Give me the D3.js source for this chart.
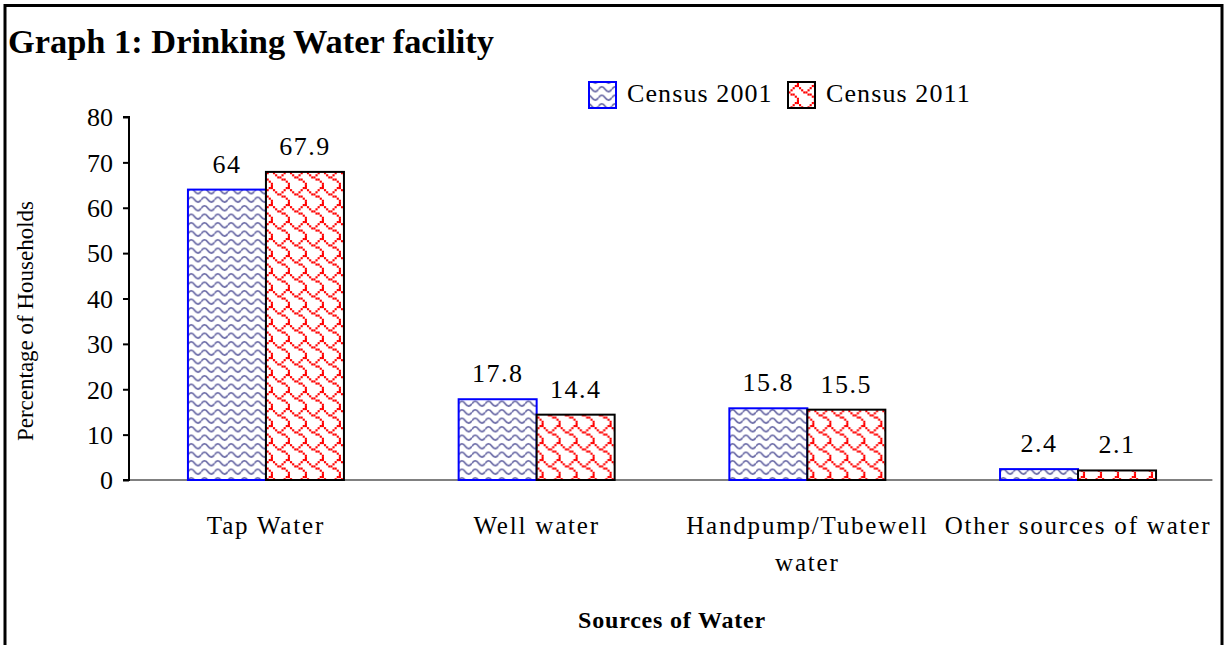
<!DOCTYPE html>
<html><head><meta charset="utf-8">
<script src="https://cdn.jsdelivr.net/npm/d3@7"></script>
<style>html,body{margin:0;padding:0;background:#fff;} svg{display:block;}</style>
</head><body>
<svg id="chart" width="1225" height="645"></svg>
<script>
const categories = ["Tap Water", "Well water", "Handpump/Tubewell water", "Other sources of water"];
const categoryLines = [["Tap Water"], ["Well water"], ["Handpump/Tubewell", "water"], ["Other sources of water"]];
const seriesNames = ["Census 2001", "Census 2011"];
const census2001 = [64, 17.8, 15.8, 2.4];
const census2011 = [67.9, 14.4, 15.5, 2.1];
const yTicks = [0, 10, 20, 30, 40, 50, 60, 70, 80];
const titleText = "Graph 1: Drinking Water facility";
const xTitle = "Sources of Water";
const yTitle = "Percentage of Households";

const svg = d3.select("#chart");
const serif = "'Liberation Serif','Times New Roman',serif";

// patterns
const defs = svg.append("defs");
const wave = defs.append("pattern").attr("id","wave").attr("patternUnits","userSpaceOnUse")
  .attr("width",13.3).attr("height",8.5);
wave.append("rect").attr("width",13.3).attr("height",8.5).attr("fill","#fff");
wave.append("path").attr("d","M0,4.2 C2.2,1.0 4.4,1.0 6.65,4.2 C8.9,7.4 11.1,7.4 13.3,4.2")
  .attr("fill","none").attr("stroke","#6a6aa6").attr("stroke-width",1.8);

const shingleBits = [0x03, 0x84, 0x48, 0x30, 0x0c, 0x02, 0x01, 0x01];
const sh = defs.append("pattern").attr("id","shingle").attr("patternUnits","userSpaceOnUse")
  .attr("width",17).attr("height",17);
sh.append("rect").attr("width",17).attr("height",17).attr("fill","#fff");
shingleBits.forEach((b,row)=>{
  for(let c=0;c<8;c++){
    if(b & (0x80>>c)) sh.append("rect").attr("x",c*2.125).attr("y",row*2.125).attr("width",2.125).attr("height",2.125)
      .attr("fill","#ff0000");
  }
});

const fills = ["url(#wave)","url(#shingle)"];
const strokes = ["#0000ff","#000000"];

// frame
svg.append("rect").attr("x",5).attr("y",5.5).attr("width",1217).attr("height",700)
  .attr("fill","none").attr("stroke","#000").attr("stroke-width",3);

// title
svg.append("text").attr("x",8).attr("y",53).attr("font-family",serif).attr("font-weight","bold")
  .attr("font-size",34.4).attr("fill","#000").text(titleText);

// scales
const y = d3.scaleLinear().domain([0,80]).range([480,117]);
const x0 = d3.scaleBand().domain(categories).range([130.6,1213.4]).paddingInner(1-156/270.7).paddingOuter((1-156/270.7)/2);
const x1 = d3.scaleBand().domain(seriesNames).range([0,x0.bandwidth()]);

// x axis line (grey)
svg.append("line").attr("x1",x0.range()[0]-1).attr("x2",x0.range()[1]-1).attr("y1",y(0)).attr("y2",y(0))
  .attr("stroke","#808080").attr("stroke-width",2);

// y axis
const yAxis = d3.axisLeft(y).tickValues(yTicks).tickSize(6).tickPadding(10).tickFormat(d3.format("d"));
const gy = svg.append("g").attr("transform","translate(129,0)").call(yAxis);
gy.select(".domain").attr("stroke","#000").attr("stroke-width",2).attr("d",`M-6,${y(80)}H0V${y(0)}H-6`);
gy.selectAll(".tick line").attr("stroke","#000").attr("stroke-width",2);
gy.selectAll(".tick text").attr("font-family",serif).attr("font-size",26).attr("fill","#000").attr("dy","0.34em");

// bars
const data = categories.map((c,i)=>({cat:c, vals:[census2001[i], census2011[i]]}));
const groups = svg.append("g").selectAll("g").data(data).join("g")
  .attr("transform",d=>`translate(${x0(d.cat)},0)`);
groups.selectAll("rect").data(d=>d.vals.map((v,j)=>({s:seriesNames[j],v,j}))).join("rect")
  .attr("x",d=>x1(d.s)).attr("y",d=>y(d.v)).attr("width",x1.bandwidth()).attr("height",d=>y(0)-y(d.v))
  .attr("fill",d=>fills[d.j]).attr("stroke",d=>strokes[d.j]).attr("stroke-width",2);
groups.selectAll("text").data(d=>d.vals.map((v,j)=>({s:seriesNames[j],v,j}))).join("text")
  .attr("x",d=>x1(d.s)+x1.bandwidth()/2).attr("y",d=>y(d.v)-17).attr("text-anchor","middle")
  .attr("font-family",serif).attr("font-size",26).attr("letter-spacing",1.5).attr("fill","#000").text(d=>d.v);

// category labels
const cl = svg.append("g").selectAll("text").data(categories).join("text")
  .attr("x",d=>x0(d)+x0.bandwidth()/2).attr("y",534).attr("text-anchor","middle")
  .attr("font-family",serif).attr("font-size",25).attr("letter-spacing",1.8).attr("fill","#000");
cl.each(function(d,i){
  categoryLines[i].forEach((ln,k)=>{
    d3.select(this).append("tspan").attr("x",x0(d)+x0.bandwidth()/2).attr("dy",k===0?0:37).text(ln);
  });
});

// axis titles
svg.append("text").attr("x",(x0.range()[0]+x0.range()[1])/2).attr("y",628).attr("text-anchor","middle")
  .attr("font-family",serif).attr("font-weight","bold").attr("font-size",24).attr("letter-spacing",0.8)
  .attr("fill","#000").text(xTitle);
svg.append("text").attr("transform","translate(33,321) rotate(-90)").attr("text-anchor","middle")
  .attr("font-family",serif).attr("font-size",23).attr("fill","#000").text(yTitle);

// legend
const lg = svg.append("g");
const legX = [589, 788];
seriesNames.forEach((s,j)=>{
  lg.append("rect").attr("x",legX[j]).attr("y",82).attr("width",27).attr("height",26)
    .attr("fill",fills[j]).attr("stroke",strokes[j]).attr("stroke-width",2);
  lg.append("text").attr("x",legX[j]+38).attr("y",102).attr("font-family",serif).attr("font-size",26)
    .attr("letter-spacing",1.1).attr("fill","#000").text(s);
});
</script>
</body></html>
